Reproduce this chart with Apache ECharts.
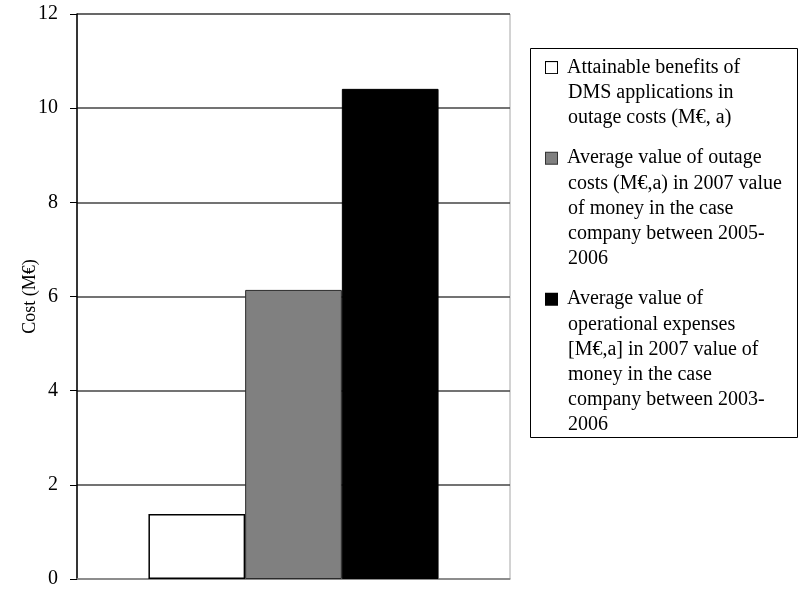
<!DOCTYPE html>
<html>
<head>
<meta charset="utf-8">
<script src="https://cdn.jsdelivr.net/npm/echarts@6/dist/echarts.min.js"></script>
<style>
  html, body { margin: 0; padding: 0; background: #fff; }
  #chart { width: 801px; height: 589px; }
</style>
</head>
<body>
<div id="chart"></div>
<script>
// One unnamed category holding three side-by-side cost bars (M€)
const categories = [''];
const seriesNames = [
  'Attainable benefits of DMS applications in outage costs (M€, a)',
  'Average value of outage costs (M€,a) in 2007 value of money in the case company between 2005-2006',
  'Average value of operational expenses [M€,a] in 2007 value of money in the case company between 2003-2006'
];
// Legend text broken into the lines shown in the key box
const legendLines = [
  ['Attainable benefits of', 'DMS applications in', 'outage costs (M€, a)'],
  ['Average value of outage', 'costs (M€,a) in 2007 value', 'of money in the case', 'company between 2005-', '2006'],
  ['Average value of', 'operational expenses', '[M€,a] in 2007 value of', 'money in the case', 'company between 2003-', '2006']
];
const benefitValues = [1.38];
const outageCostValues = [6.14];
const operationalExpenseValues = [10.41];
const yTicks = { min: 0, max: 12, interval: 2 };

const serif = "'Liberation Serif', 'Times New Roman', serif";
const fills = ['#ffffff', '#808080', '#000000'];
const borders = ['#000000', '#2a2a2a', '#000000'];
const LH = 25.2;

const chart = echarts.init(document.getElementById('chart'), null, { renderer: 'canvas' });

const rich = {
  sp: { width: 10, lineHeight: LH },
  ind: { width: 22, lineHeight: LH }
};
fills.forEach((c, i) => {
  rich['sq' + i] = {
    width: 11, height: 11, backgroundColor: c,
    borderColor: i === 1 ? '#333' : '#000', borderWidth: 1, lineHeight: LH
  };
});

const valueSets = [benefitValues, outageCostValues, operationalExpenseValues];

chart.setOption({
  animation: false,
  backgroundColor: '#ffffff',
  textStyle: { fontFamily: serif },
  grid: {
    left: 77, right: 291, top: 14, bottom: 8,
    show: true, borderColor: '#a6a6a6', borderWidth: 1, backgroundColor: 'transparent'
  },
  xAxis: {
    type: 'category',
    data: categories,
    axisLine: { show: true, lineStyle: { color: '#999999', width: 1.5 } },
    axisTick: { show: false },
    axisLabel: { show: false },
    splitLine: { show: false }
  },
  yAxis: {
    type: 'value',
    min: yTicks.min, max: yTicks.max, interval: yTicks.interval,
    name: 'Cost (M€)',
    nameLocation: 'middle',
    nameGap: 38,
    nameMoveOverlap: false,
    nameTextStyle: { fontFamily: serif, fontSize: 18, color: '#000' },
    axisLine: { show: true, lineStyle: { color: '#000', width: 1.5 } },
    axisTick: { show: true, length: 7, lineStyle: { color: '#000', width: 1 } },
    axisLabel: { fontFamily: serif, fontSize: 20, color: '#000', margin: 19 },
    splitLine: { show: true, lineStyle: { color: '#444444', width: 1.5 } }
  },
  legend: {
    orient: 'vertical',
    left: 541,
    top: 55,
    padding: 0,
    itemGap: 15,
    itemWidth: 0,
    itemHeight: 0,
    itemStyle: { opacity: 0, borderWidth: 0 },
    selectedMode: false,
    data: seriesNames,
    textStyle: { fontFamily: serif, fontSize: 20, color: '#000', lineHeight: LH, rich: rich },
    formatter: function (name) {
      const i = seriesNames.indexOf(name);
      const lines = legendLines[i];
      return ['{sq' + i + '|}{sp|}' + lines[0]]
        .concat(lines.slice(1).map(l => '{ind|}' + l))
        .join('\n');
    }
  },
  graphic: [{
    type: 'rect',
    shape: { x: 530.5, y: 48.5, width: 267, height: 389 },
    style: { fill: 'none', stroke: '#000', lineWidth: 1 },
    z: 10
  }],
  series: valueSets.map((vals, i) => ({
    name: seriesNames[i],
    type: 'bar',
    data: vals,
    barGap: '0%',
    barCategoryGap: '33%',
    itemStyle: { color: fills[i], borderColor: borders[i], borderWidth: i === 0 ? 1.5 : 1 }
  }))
});
</script>
</body>
</html>
